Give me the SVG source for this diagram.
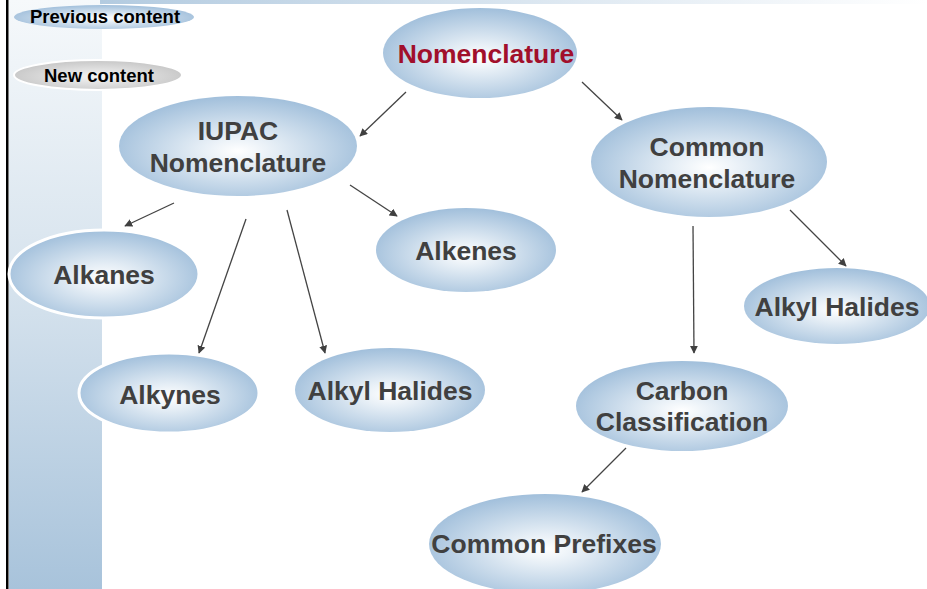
<svg xmlns="http://www.w3.org/2000/svg" width="927" height="589" viewBox="0 0 927 589">
<defs>
<linearGradient id="strip" x1="0" y1="0" x2="0" y2="1">
<stop offset="0" stop-color="#f6f9fb"/>
<stop offset="0.5" stop-color="#d5e2ed"/>
<stop offset="1" stop-color="#a8c3db"/>
</linearGradient>
<linearGradient id="topbar" x1="0" y1="0" x2="1" y2="0">
<stop offset="0" stop-color="#b3cbe0"/>
<stop offset="1" stop-color="#ffffff"/>
</linearGradient>
<radialGradient id="blue" cx="0.5" cy="0.55" r="0.55">
<stop offset="0" stop-color="#ffffff"/>
<stop offset="0.3" stop-color="#e4edf5"/>
<stop offset="1" stop-color="#a1bfdb"/>
</radialGradient>
<radialGradient id="gray" cx="0.5" cy="0.55" r="0.55">
<stop offset="0" stop-color="#f5f5f5"/>
<stop offset="1" stop-color="#c6c6c6"/>
</radialGradient>
<marker id="ah" viewBox="0 0 10 10" refX="9" refY="5" markerWidth="8" markerHeight="8" markerUnits="userSpaceOnUse" orient="auto">
<path d="M0,0 L10,5 L0,10 z" fill="#404040"/>
</marker>
</defs>
<style>
.n{fill:url(#blue);}
.w{stroke:#ffffff;stroke-width:3;}
.t{font-family:"Liberation Sans",Arial,sans-serif;font-weight:bold;font-size:26.5px;fill:#404040;text-anchor:middle;}
.l{font-family:"Liberation Sans",Arial,sans-serif;font-weight:bold;font-size:18.5px;fill:#000000;text-anchor:middle;}
.c line{stroke:#444444;stroke-width:1.3;marker-end:url(#ah);}
</style>
<rect x="0" y="0" width="927" height="589" fill="#ffffff"/>
<rect x="9" y="0" width="93" height="589" fill="url(#strip)"/>
<rect x="100" y="0" width="827" height="4" fill="url(#topbar)"/>
<rect x="6" y="0" width="2.5" height="589" fill="#000000"/>

<g id="legend-previous">
<ellipse cx="104" cy="17" rx="90" ry="12" class="n"/>
<text x="105" y="23" class="l">Previous content</text>
</g>
<g id="legend-new">
<ellipse cx="98" cy="75" rx="84" ry="15" fill="url(#gray)" stroke="#ffffff" stroke-width="2"/>
<text x="99" y="82" class="l">New content</text>
</g>

<g class="c" id="connectors">
<line x1="406" y1="92" x2="360" y2="136"/>
<line x1="582" y1="82" x2="622" y2="120"/>
<line x1="174" y1="203" x2="125" y2="226"/>
<line x1="350" y1="185" x2="397" y2="216"/>
<line x1="246" y1="219" x2="199" y2="353"/>
<line x1="287" y1="210" x2="325" y2="353"/>
<line x1="693" y1="226" x2="694" y2="353"/>
<line x1="790" y1="210" x2="846" y2="266"/>
<line x1="626" y1="448" x2="582" y2="492"/>
</g>

<g id="nomenclature">
<ellipse cx="480" cy="53" rx="97" ry="45" class="n"/>
<text x="486" y="63" class="t" style="fill:#a10f2b">Nomenclature</text>
</g>
<g id="iupac">
<ellipse cx="238" cy="146" rx="119" ry="50" class="n"/>
<text x="238" y="140" class="t">IUPAC</text>
<text x="238" y="172" class="t">Nomenclature</text>
</g>
<g id="common">
<ellipse cx="709" cy="162" rx="118" ry="55" class="n"/>
<text x="707" y="156" class="t">Common</text>
<text x="707" y="188" class="t">Nomenclature</text>
</g>
<g id="alkanes">
<ellipse cx="104" cy="274" rx="95" ry="44" class="n w"/>
<text x="104" y="284" class="t">Alkanes</text>
</g>
<g id="alkenes">
<ellipse cx="466" cy="250" rx="90" ry="42" class="n"/>
<text x="466" y="260" class="t">Alkenes</text>
</g>
<g id="alkyl-halides-right">
<ellipse cx="837" cy="306" rx="93" ry="38" class="n"/>
<text x="837" y="316" class="t">Alkyl Halides</text>
</g>
<g id="alkynes">
<ellipse cx="169" cy="393" rx="90" ry="40" class="n w"/>
<text x="170" y="404" class="t">Alkynes</text>
</g>
<g id="alkyl-halides-mid">
<ellipse cx="390" cy="390" rx="95" ry="42" class="n"/>
<text x="390" y="400" class="t">Alkyl Halides</text>
</g>
<g id="carbon-classification">
<ellipse cx="682" cy="406" rx="106" ry="45" class="n"/>
<text x="682" y="400" class="t">Carbon</text>
<text x="682" y="431" class="t">Classification</text>
</g>
<g id="common-prefixes">
<ellipse cx="545" cy="544" rx="116" ry="50" class="n"/>
<text x="544" y="553" class="t">Common Prefixes</text>
</g>
</svg>
